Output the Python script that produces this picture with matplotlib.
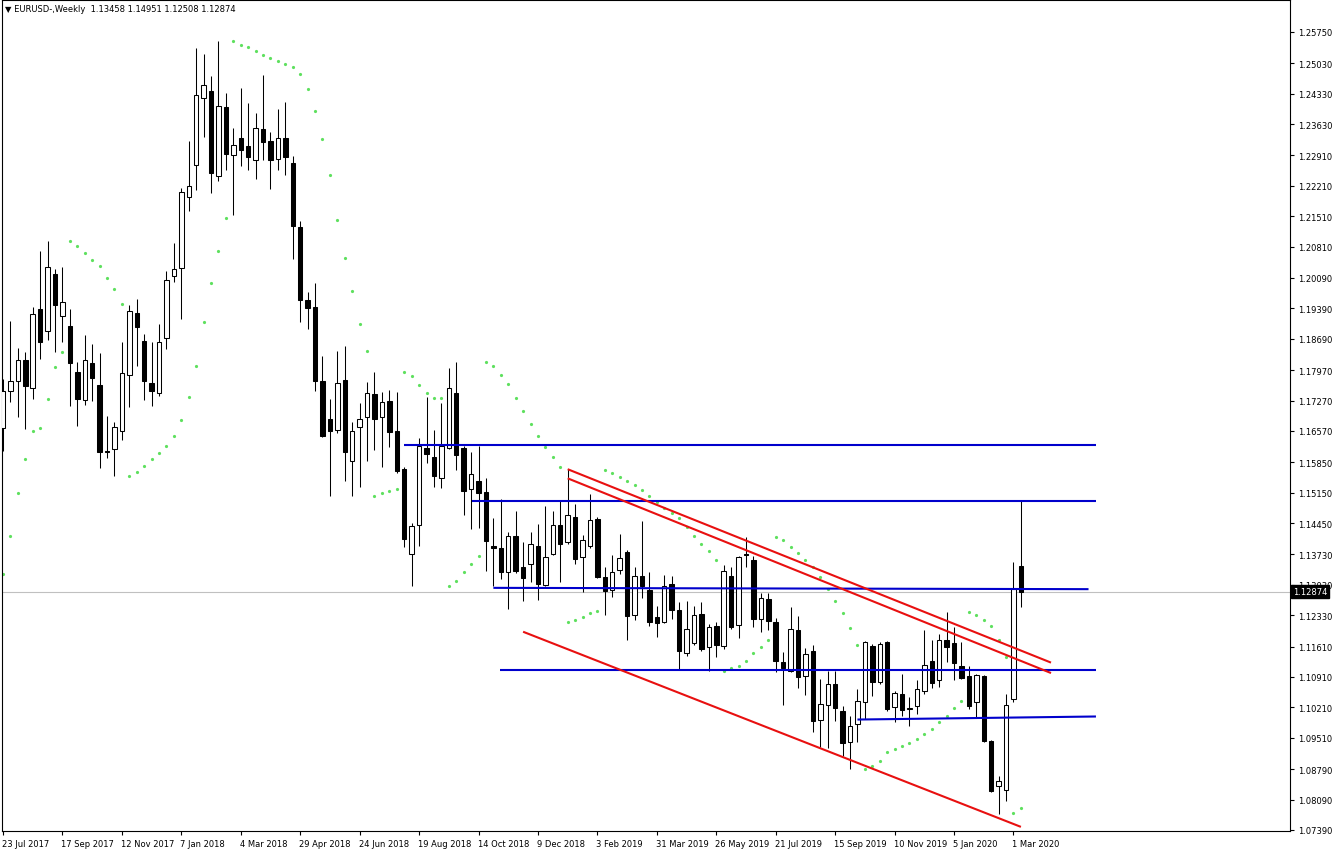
import matplotlib
matplotlib.use("Agg")
import matplotlib.pyplot as plt
from matplotlib.patches import Rectangle
import matplotlib.transforms as mtransforms

# ---------------- data (weekly EURUSD, 23 Jul 2017 .. 8 Mar 2020) ----------------
opens = [1.1664, 1.1749, 1.1773, 1.1821, 1.1756, 1.1938, 1.1886, 1.2018, 1.1922, 1.1898,
         1.1792, 1.1729, 1.1813, 1.1763, 1.1611, 1.1616, 1.1658, 1.1786, 1.1928, 1.1863,
         1.1767, 1.1744, 1.1870, 1.2013, 1.2032, 1.2195, 1.2269, 1.2423, 1.2439, 1.2243,
         1.2402, 1.2293, 1.2330, 1.2312, 1.2281, 1.2352, 1.2324, 1.2283, 1.2330, 1.2273,
         1.2127, 1.1958, 1.1943, 1.1773, 1.1685, 1.1660, 1.1774, 1.1587, 1.1667, 1.1688,
         1.1742, 1.1690, 1.1727, 1.1656, 1.1569, 1.1375, 1.1441, 1.1618, 1.1598, 1.1549,
         1.1618, 1.1744, 1.1618, 1.1523, 1.1541, 1.1517, 1.1393, 1.1387, 1.1332, 1.1415,
         1.1343, 1.1352, 1.1393, 1.1303, 1.1374, 1.1441, 1.1401, 1.1460, 1.1366, 1.1392,
         1.1454, 1.1320, 1.1292, 1.1337, 1.1379, 1.1233, 1.1323, 1.1291, 1.1230, 1.1217,
         1.1305, 1.1246, 1.1146, 1.1169, 1.1236, 1.1159, 1.1209, 1.1163, 1.1323, 1.1210,
         1.1373, 1.1361, 1.1224, 1.1271, 1.1217, 1.1126, 1.1105, 1.1199, 1.1094, 1.1151,
         1.0993, 1.1027, 1.1075, 1.1013, 1.0942, 1.0983, 1.1034, 1.1163, 1.1080, 1.1171,
         1.1022, 1.1052, 1.1017, 1.1025, 1.1059, 1.1128, 1.1084, 1.1177, 1.1169, 1.1117,
         1.1094, 1.1033, 1.1094, 1.0944, 1.0841, 1.0830, 1.1040, 1.13458]
highs = [1.1777, 1.1911, 1.1848, 1.1838, 1.1942, 1.2070, 1.2093, 1.2030, 1.2034, 1.1938,
         1.1815, 1.1878, 1.1857, 1.1836, 1.1691, 1.1677, 1.1862, 1.1947, 1.1961, 1.1880,
         1.1861, 1.1903, 1.2024, 1.2089, 1.2215, 1.2325, 1.2538, 1.2524, 1.2474, 1.2555,
         1.2435, 1.2354, 1.2446, 1.2412, 1.2389, 1.2476, 1.2344, 1.2398, 1.2413, 1.2290,
         1.2139, 1.1977, 1.1997, 1.1830, 1.1731, 1.1840, 1.1852, 1.1677, 1.1721, 1.1769,
         1.1792, 1.1746, 1.1751, 1.1746, 1.1575, 1.1445, 1.1640, 1.1734, 1.1660, 1.1721,
         1.1802, 1.1815, 1.1623, 1.1609, 1.1622, 1.1549, 1.1457, 1.1500, 1.1424, 1.1473,
         1.1402, 1.1424, 1.1443, 1.1485, 1.1473, 1.1497, 1.1569, 1.1489, 1.1418, 1.1512,
         1.1459, 1.1343, 1.1372, 1.1420, 1.1382, 1.1343, 1.1449, 1.1332, 1.1255, 1.1326,
         1.1323, 1.1263, 1.1265, 1.1255, 1.1263, 1.1213, 1.1217, 1.1348, 1.1343, 1.1370,
         1.1412, 1.1370, 1.1284, 1.1284, 1.1226, 1.1148, 1.1251, 1.1231, 1.1157, 1.1164,
         1.1086, 1.1105, 1.1105, 1.1025, 1.1000, 1.1063, 1.1174, 1.1167, 1.1171, 1.1174,
         1.1059, 1.1098, 1.1044, 1.1085, 1.1199, 1.1177, 1.1190, 1.1240, 1.1205, 1.1172,
         1.1117, 1.1098, 1.1096, 1.0947, 1.0864, 1.1052, 1.1356, 1.14951]
lows = [1.1611, 1.1724, 1.1688, 1.1661, 1.1731, 1.1823, 1.1867, 1.1839, 1.1861, 1.1715,
        1.1668, 1.1717, 1.1727, 1.1571, 1.1594, 1.1554, 1.1637, 1.1711, 1.1807, 1.1728,
        1.1715, 1.1738, 1.1846, 1.1999, 1.1915, 1.2164, 1.2211, 1.2333, 1.2205, 1.2233,
        1.2258, 1.2155, 1.2267, 1.2258, 1.2237, 1.2281, 1.2214, 1.2258, 1.2247, 1.2053,
        1.1908, 1.1892, 1.1750, 1.1644, 1.1508, 1.1652, 1.1541, 1.1508, 1.1527, 1.1589,
        1.1613, 1.1573, 1.1619, 1.1560, 1.1389, 1.1301, 1.1393, 1.1583, 1.1529, 1.1525,
        1.1616, 1.1568, 1.1464, 1.1431, 1.1434, 1.1335, 1.1301, 1.1316, 1.1247, 1.1330,
        1.1266, 1.1309, 1.1269, 1.1301, 1.1372, 1.1309, 1.1397, 1.1351, 1.1287, 1.1387,
        1.1318, 1.1233, 1.1274, 1.1328, 1.1177, 1.1222, 1.1272, 1.1209, 1.1182, 1.1214,
        1.1224, 1.1109, 1.1140, 1.1164, 1.1151, 1.1105, 1.1136, 1.1155, 1.1201, 1.1181,
        1.1343, 1.1207, 1.1194, 1.1200, 1.1102, 1.1027, 1.1103, 1.1065, 1.1050, 1.0964,
        1.0929, 1.0927, 1.0990, 1.0910, 1.0879, 1.0941, 1.0994, 1.1048, 1.1075, 1.1013,
        1.0988, 1.1000, 1.0979, 1.1006, 1.1052, 1.1065, 1.1067, 1.1125, 1.1085, 1.1086,
        1.1017, 1.0998, 1.0941, 1.0826, 1.0776, 1.0805, 1.1034, 1.12508]
closes = [1.1749, 1.1772, 1.1821, 1.1761, 1.1926, 1.1861, 1.2035, 1.1947, 1.1953, 1.1813,
          1.1731, 1.1821, 1.1779, 1.1609, 1.1608, 1.1665, 1.1790, 1.1932, 1.1897, 1.1773,
          1.1750, 1.1861, 1.2005, 1.2030, 1.2206, 1.2221, 1.2430, 1.2454, 1.2251, 1.2404,
          1.2294, 1.2316, 1.2304, 1.2288, 1.2353, 1.2321, 1.2281, 1.2330, 1.2287, 1.2128,
          1.1959, 1.1940, 1.1771, 1.1646, 1.1658, 1.1767, 1.1608, 1.1656, 1.1685, 1.1744,
          1.1685, 1.1723, 1.1655, 1.1566, 1.1408, 1.1439, 1.1623, 1.1604, 1.1553, 1.1622,
          1.1755, 1.1602, 1.1518, 1.1558, 1.1514, 1.1403, 1.1387, 1.1333, 1.1415, 1.1335,
          1.1318, 1.1397, 1.1305, 1.1368, 1.1441, 1.1397, 1.1464, 1.1362, 1.1407, 1.1453,
          1.1320, 1.1289, 1.1332, 1.1364, 1.1232, 1.1324, 1.1301, 1.1217, 1.1214, 1.1300,
          1.1246, 1.1150, 1.1201, 1.1233, 1.1155, 1.1207, 1.1165, 1.1334, 1.1207, 1.1368,
          1.1371, 1.1224, 1.1272, 1.1220, 1.1128, 1.1111, 1.1201, 1.1092, 1.1144, 1.0990,
          1.1029, 1.1075, 1.1019, 1.0939, 1.0979, 1.1036, 1.1171, 1.1080, 1.1167, 1.1017,
          1.1053, 1.1015, 1.1019, 1.1063, 1.1119, 1.1077, 1.1177, 1.1159, 1.1122, 1.1088,
          1.1025, 1.1095, 1.0944, 1.0828, 1.0851, 1.1027, 1.1293, 1.12874]
# Parabolic SAR dots
sar = [1.1328, 1.1415, 1.1514, 1.1593, 1.1656, 1.1663, 1.1731, 1.1804, 1.1838, 1.2093,
       1.2083, 1.2067, 1.2051, 1.2037, 1.2008, 1.1984, 1.1949, 1.1554, 1.1562, 1.1577,
       1.1593, 1.1606, 1.1622, 1.1645, 1.1682, 1.1736, 1.1806, 1.1908, 1.1997, 1.2072,
       1.2147, 1.2554, 1.2546, 1.2540, 1.2531, 1.2522, 1.2515, 1.2509, 1.2501, 1.2494,
       1.2478, 1.2443, 1.2394, 1.2329, 1.2247, 1.2143, 1.2054, 1.1978, 1.1904, 1.1840,
       1.1508, 1.1514, 1.1520, 1.1523, 1.1792, 1.1783, 1.1763, 1.1744, 1.1733, 1.1733,
       1.1301, 1.1312, 1.1332, 1.1351, 1.1370, 1.1815, 1.1806, 1.1786, 1.1765, 1.1733,
       1.1703, 1.1673, 1.1645, 1.1620, 1.1596, 1.1573, 1.1217, 1.1222, 1.1230, 1.1237,
       1.1243, 1.1568, 1.1560, 1.1552, 1.1543, 1.1533, 1.1521, 1.1507, 1.1493, 1.1480,
       1.1468, 1.1457, 1.1437, 1.1416, 1.1397, 1.1380, 1.1359, 1.1105, 1.1112, 1.1117,
       1.1128, 1.1145, 1.1161, 1.1176, 1.1412, 1.1405, 1.1391, 1.1376, 1.1361, 1.1345,
       1.1321, 1.1293, 1.1266, 1.1237, 1.1203, 1.1165, 1.0879, 1.0885, 1.0897, 1.0918,
       1.0925, 1.0932, 1.0939, 1.0948, 1.0960, 1.0971, 1.0987, 1.1000, 1.1019, 1.1036,
       1.1240, 1.1234, 1.1223, 1.1208, 1.1177, 1.1137, 1.0777, 1.0789]

date_labels = ["23 Jul 2017", "17 Sep 2017", "12 Nov 2017", "7 Jan 2018", "4 Mar 2018",
               "29 Apr 2018", "24 Jun 2018", "19 Aug 2018", "14 Oct 2018", "9 Dec 2018",
               "3 Feb 2019", "31 Mar 2019", "26 May 2019", "21 Jul 2019", "15 Sep 2019",
               "10 Nov 2019", "5 Jan 2020", "1 Mar 2020"]
price_ticks = [1.25750, 1.25030, 1.24330, 1.23630, 1.22910, 1.22210, 1.21510, 1.20810,
               1.20090, 1.19390, 1.18690, 1.17970, 1.17270, 1.16570, 1.15850, 1.15150,
               1.14450, 1.13730, 1.13030, 1.12330, 1.11610, 1.10910, 1.10210, 1.09510,
               1.08790, 1.08090, 1.07390]

# horizontal support/resistance lines: (bar start, bar end, price start, price end)
blue_x0 = [54.0, 63.1, 66.0, 66.9, 115.0]
blue_x1 = [147.1, 147.1, 146.1, 147.1, 147.1]
blue_p0 = [1.1624, 1.14965, 1.1296, 1.1108, 1.0993]
blue_p1 = [1.1624, 1.14965, 1.1293, 1.1108, 1.1000]
# channel trend lines
red_x0 = [76.0, 76.0, 70.0]
red_x1 = [141.05, 141.05, 137.0]
red_p0 = [1.1569, 1.1548, 1.1195]
red_p1 = [1.1124, 1.1100, 1.0746]

symbol_text = "EURUSD-,Weekly  1.13458 1.14951 1.12508 1.12874"
last_price = 1.12874

# ---------------- figure ----------------
W, H, DPI = 1332, 853, 100
fig = plt.figure(figsize=(W / DPI, H / DPI), dpi=DPI, facecolor="white")
L_px, R_px, T_px, B_px = 2, 1290, 1, 832
ax = fig.add_axes([L_px / W, 1 - B_px / H, (R_px - L_px) / W, (B_px - T_px) / H])
ax.set_facecolor("white")

bar_px = 7.43           # pixel spacing between weekly bars
x_first = 3             # pixel x of the first bar
px_per_price = 4346.0   # vertical scale
y_ref, p_ref = 33, 1.25750
ax.set_xlim((L_px - x_first) / bar_px, (R_px - x_first) / bar_px)
ax.set_ylim(p_ref - (B_px - y_ref) / px_per_price, p_ref + (y_ref - T_px) / px_per_price)

# current price line
ax.axhline(last_price, color="#c0c0c0", lw=0.8, zorder=1)

# candles
n = len(opens)
bw = 0.6
for i in range(n):
    o, h, l, c = opens[i], highs[i], lows[i], closes[i]
    ax.vlines(i, l, h, color="black", lw=0.75, zorder=3)
    bull = c >= o
    bot = min(o, c)
    ht = max(abs(c - o), 0.00002)
    ax.add_patch(Rectangle((i - bw / 2, bot), bw, ht,
                           facecolor="white" if bull else "black",
                           edgecolor="black", lw=0.75, zorder=4))

# parabolic SAR
ax.plot(range(n), sar, linestyle="none", marker="o", markersize=2.3,
        color="#5fe05f", markeredgewidth=0, zorder=2)

# blue lines
for x0, x1, p0, p1 in zip(blue_x0, blue_x1, blue_p0, blue_p1):
    ax.plot([x0, x1], [p0, p1], color="#0000cc", lw=1.5, zorder=5,
            solid_capstyle="butt")
# red lines
for x0, x1, p0, p1 in zip(red_x0, red_x1, red_p0, red_p1):
    ax.plot([x0, x1], [p0, p1], color="#e81010", lw=1.5, zorder=5,
            solid_capstyle="butt")

# axes styling
for s in ax.spines.values():
    s.set_color("black")
    s.set_linewidth(0.8)
ax.yaxis.tick_right()
ax.set_yticks(price_ticks)
ax.set_yticklabels([f"{v:.5f}" for v in price_ticks])
ax.set_xticks(list(range(0, 8 * len(date_labels), 8)))
ax.set_xticklabels(date_labels)
ax.tick_params(axis="both", direction="out", length=3, width=0.8, colors="black",
               labelsize=6.0)
ax.tick_params(axis="y", pad=2.5)
ax.tick_params(axis="x", pad=2.5)
offset = mtransforms.ScaledTranslation(-1 / DPI, 0, fig.dpi_scale_trans)
for lab in ax.get_xticklabels():
    lab.set_horizontalalignment("left")
    lab.set_transform(lab.get_transform() + offset)

# last price label box (covers the neighbouring tick label as in the terminal)
trans = mtransforms.blended_transform_factory(ax.transAxes, ax.transData)
ax.text(1.0 + 3 / (R_px - L_px), last_price, f"{last_price:.5f}", transform=trans,
        ha="left", va="center", fontsize=6.0, color="white", zorder=10,
        bbox=dict(boxstyle="square,pad=0.25", facecolor="black", edgecolor="black"),
        clip_on=False)

# symbol caption
fig.text(5 / W, 1 - 9 / H, "\u25bc " + symbol_text, fontsize=6.0, color="black",
         ha="left", va="center")

fig.savefig("out.png", dpi=DPI, facecolor="white")
